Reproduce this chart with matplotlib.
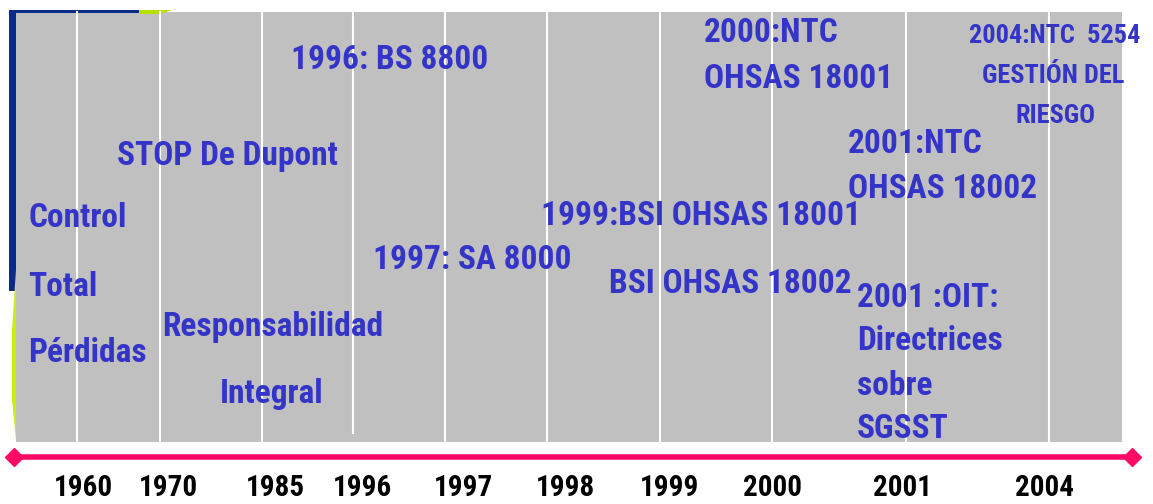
import matplotlib
matplotlib.use('Agg')
import matplotlib.pyplot as plt
import matplotlib.font_manager as fm
from matplotlib.patches import Rectangle, Polygon

# 폰트: 좁은 글꼴이 있으면 사용
names = {f.name for f in fm.fontManager.ttflist}
FONT = 'Liberation Sans'
for cand in ['Liberation Sans Narrow', 'Arial Narrow', 'Roboto Condensed']:
    if cand in names:
        FONT = cand
        break
NARROW = FONT != 'Liberation Sans'

# 데이터
years = ['1960', '1970', '1985', '1996', '1997', '1998', '1999', '2000', '2001', '2004']
year_x = [83, 168, 275, 362, 463, 565, 670, 773, 903, 1045]
grid_x = [77, 160, 262, 353, 445, 547, 660, 772, 906, 1049]

event_texts = [
    'Control', 'Total', 'Pérdidas',
    'STOP De Dupont',
    'Responsabilidad', 'Integral',
    '1996: BS 8800',
    '1997: SA 8000',
    '1999:BSI OHSAS 18001', 'BSI OHSAS 18002',
    '2000:NTC', 'OHSAS 18001',
    '2001:NTC', 'OHSAS 18002',
    '2001 :OIT:', 'Directrices', 'sobre', 'SGSST',
]
event_xy = [
    (28, 218), (28, 287), (28, 353),
    (117, 156),
    (162, 327), (220, 394),
    (291, 60),
    (373, 260),
    (541, 216), (609, 284),
    (704, 33), (704, 79),
    (848, 144), (848, 189),
    (857, 298), (857, 341), (857, 386), (857, 429),
]
risk_texts = ['2004:NTC  5254', 'GESTIÓN DEL', 'RIESGO']
risk_xy = [(1055, 36), (1053, 76), (1056, 116)]

BLUE = '#3434C8'
PINK = '#FF0A64'
EV_SIZE = 24 if NARROW else 19.7
RISK_SIZE = 19 if NARROW else 17
YEAR_SIZE = 21 if NARROW else 19

fig = plt.figure(figsize=(11.53, 5.04), dpi=100)
ax = fig.add_axes([0, 0, 1, 1])
ax.set_xlim(0, 1153)
ax.set_ylim(504, 0)
ax.axis('off')

# 배경
ax.add_patch(Rectangle((16, 12), 1106, 430, facecolor='#C0C0C0', edgecolor='none', zorder=1))
ax.add_patch(Rectangle((9, 11), 7, 280, facecolor='#0B2A8A', edgecolor='none', zorder=1))
ax.add_patch(Rectangle((9, 10), 130, 3, facecolor='#0B2A8A', edgecolor='none', zorder=1))
ax.add_patch(Polygon([(139, 10), (172, 10), (160, 14), (139, 14)], facecolor='#B8E000',
                     edgecolor='none', zorder=1))
ax.add_patch(Polygon([(16, 270), (16, 440), (12, 400), (12, 330)], facecolor='#C8EE10',
                     edgecolor='none', zorder=1))

# 세로 격자선
for i, gx in enumerate(grid_x):
    y_end = 433 if i == 3 else 442
    ax.plot([gx, gx], [12, y_end], color='white', lw=1.5, zorder=2)

# 타임라인 선
ax.plot([14, 1132], [457, 457], color=PINK, lw=4, solid_capstyle='butt', zorder=3)
ax.plot([14, 1132], [457, 457], ls='none', marker='D', ms=9, color=PINK, zorder=3)

# 연도 라벨
for y, x in zip(years, year_x):
    ax.text(x, 488, y, ha='center', va='center', fontsize=YEAR_SIZE, fontweight='bold',
            family=FONT, color='black', zorder=4)

# 사건 텍스트
for t, (x, y) in zip(event_texts, event_xy):
    ax.text(x, y, t, ha='left', va='center', fontsize=EV_SIZE, fontweight='bold',
            family=FONT, color=BLUE, zorder=4)

for t, (x, y) in zip(risk_texts, risk_xy):
    ax.text(x, y, t, ha='center', va='center', fontsize=RISK_SIZE, fontweight='bold',
            family=FONT, color=BLUE, zorder=4)

fig.savefig('out.png', dpi=100)
